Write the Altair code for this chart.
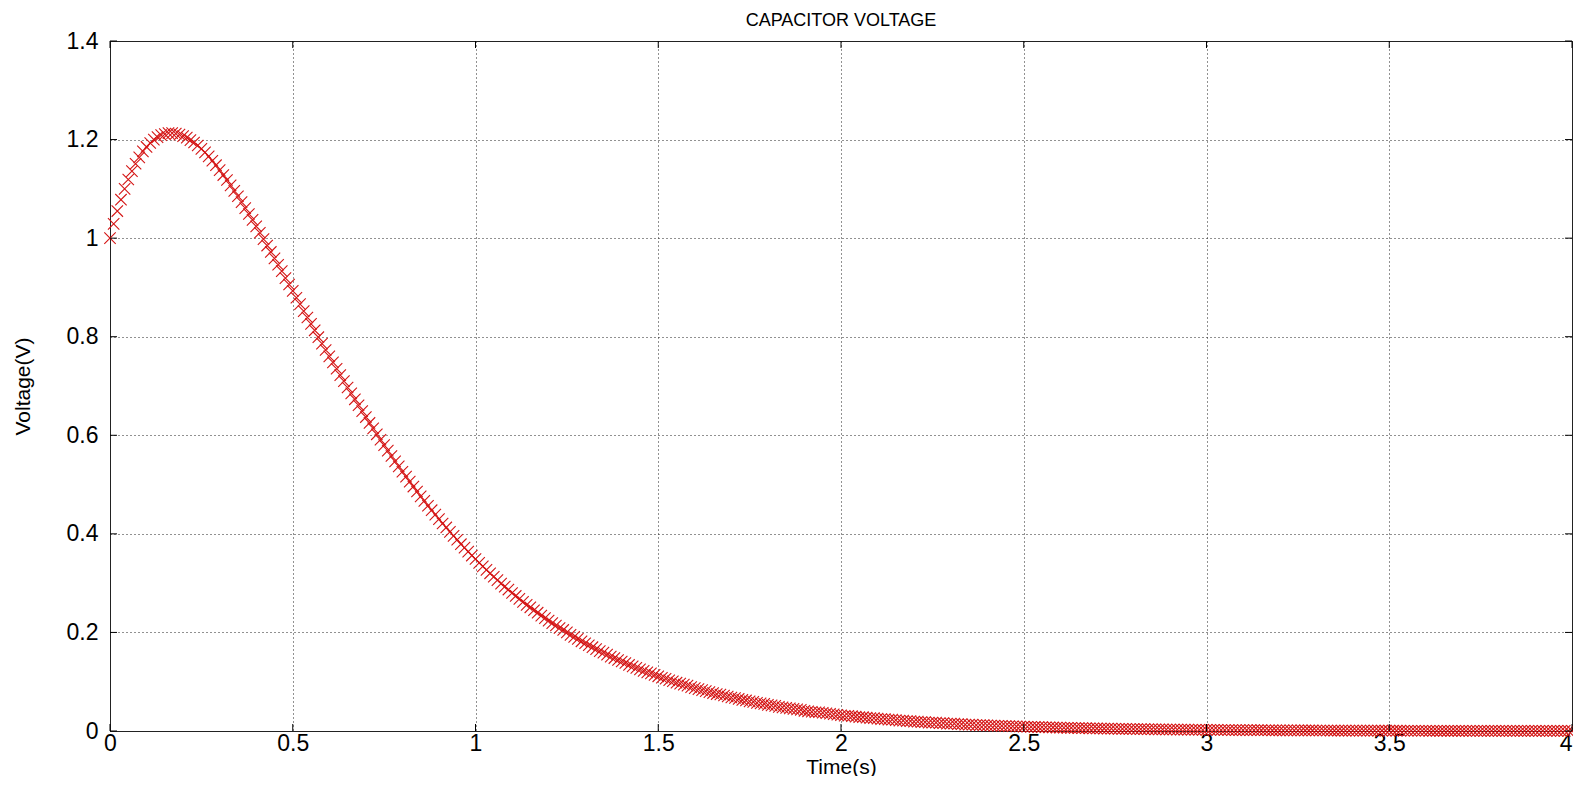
import altair as alt
import pandas as pd

# ---- data (sampling step 0.01 s) ----
T_STEP = 0.01
v_rise = [
    1.000, 1.029, 1.055, 1.078, 1.100, 1.119, 1.136, 1.151, 1.164, 1.176,
    1.185, 1.193, 1.200, 1.205, 1.209, 1.211, 1.213, 1.213, 1.212, 1.210,
    1.207, 1.204, 1.199, 1.194, 1.188, 1.181, 1.174, 1.166, 1.157, 1.148,
    1.138, 1.128, 1.118, 1.107, 1.096, 1.085, 1.073, 1.061, 1.049, 1.037,
    1.024, 1.011, 0.998, 0.985, 0.972, 0.959, 0.946, 0.933, 0.919, 0.906,
]
v_fall = [
    0.893, 0.879, 0.866, 0.852, 0.839, 0.826, 0.813, 0.799, 0.786, 0.773,
    0.760, 0.748, 0.735, 0.722, 0.710, 0.697, 0.685, 0.673, 0.661, 0.649,
    0.637, 0.625, 0.614, 0.602, 0.591, 0.580, 0.569, 0.558, 0.547, 0.537,
    0.526, 0.516, 0.506, 0.496, 0.486, 0.476, 0.467, 0.457, 0.448, 0.439,
    0.430, 0.421, 0.413, 0.404, 0.396, 0.388, 0.379, 0.372, 0.364, 0.356,
    0.349, 0.341, 0.334, 0.327, 0.320, 0.313, 0.306, 0.299, 0.293, 0.287,
    0.280, 0.274, 0.268, 0.262, 0.256, 0.251, 0.245, 0.240, 0.234, 0.229,
    0.224, 0.219, 0.214, 0.209, 0.205, 0.200, 0.195, 0.191, 0.187, 0.182,
    0.178, 0.174, 0.170, 0.166, 0.162, 0.159, 0.155, 0.151, 0.148, 0.144,
    0.141, 0.138, 0.134, 0.131, 0.128, 0.125, 0.122, 0.119, 0.117, 0.114,
]
v_decay = [
    0.111, 0.108, 0.106, 0.103, 0.101, 0.098, 0.096, 0.094, 0.092, 0.089,
    0.087, 0.085, 0.083, 0.081, 0.079, 0.077, 0.075, 0.074, 0.072, 0.070,
    0.068, 0.067, 0.065, 0.063, 0.062, 0.060, 0.059, 0.057, 0.056, 0.055,
    0.053, 0.052, 0.051, 0.049, 0.048, 0.047, 0.046, 0.045, 0.044, 0.043,
    0.041, 0.040, 0.039, 0.038, 0.038, 0.037, 0.036, 0.035, 0.034, 0.033,
    0.032, 0.031, 0.031, 0.030, 0.029, 0.028, 0.028, 0.027, 0.026, 0.026,
    0.025, 0.024, 0.024, 0.023, 0.023, 0.022, 0.021, 0.021, 0.020, 0.020,
    0.019, 0.019, 0.018, 0.018, 0.017, 0.017, 0.017, 0.016, 0.016, 0.015,
    0.015, 0.015, 0.014, 0.014, 0.013, 0.013, 0.013, 0.012, 0.012, 0.012,
    0.0115, 0.0112, 0.0109, 0.0106, 0.0104, 0.0101, 0.0098, 0.0096, 0.0093, 0.0091,
]
v_tail = [
    0.0088, 0.0086, 0.0084, 0.0082, 0.0080, 0.0078, 0.0076, 0.0074, 0.0072, 0.0070,
    0.0068, 0.0066, 0.0065, 0.0063, 0.0061, 0.0060, 0.0058, 0.0057, 0.0055, 0.0054,
    0.0052, 0.0051, 0.0050, 0.0048, 0.0047, 0.0046, 0.0044, 0.0043, 0.0042, 0.0041,
    0.0040, 0.0039, 0.0038, 0.0037, 0.0036, 0.0035, 0.0034, 0.0033, 0.0032, 0.0031,
    0.0031, 0.0030, 0.0029, 0.0028, 0.0028, 0.0027, 0.0026, 0.0025, 0.0025, 0.0024,
    0.0023, 0.0023, 0.0022, 0.0022, 0.0021, 0.0021, 0.0020, 0.0019, 0.0019, 0.0018,
    0.0018, 0.0017, 0.0017, 0.0017, 0.0016, 0.0016, 0.0015, 0.0015, 0.0014, 0.0014,
    0.0014, 0.0013, 0.0013, 0.0013, 0.0012, 0.0012, 0.0012, 0.0011, 0.0011, 0.0011,
    0.0010, 0.0010, 0.0010, 0.0010, 0.0009, 0.0009, 0.0009, 0.0009, 0.0008, 0.0008,
    0.0008, 0.0008, 0.0008, 0.0007, 0.0007, 0.0007, 0.0007, 0.0007, 0.0006, 0.0006,
    0.0006, 0.0006, 0.0006, 0.0006, 0.0005, 0.0005, 0.0005, 0.0005, 0.0005, 0.0005,
    0.0005, 0.0004, 0.0004, 0.0004, 0.0004, 0.0004, 0.0004, 0.0004, 0.0004, 0.0004,
    0.0004, 0.0003, 0.0003, 0.0003, 0.0003, 0.0003, 0.0003, 0.0003, 0.0003, 0.0003,
    0.0003, 0.0003, 0.0003, 0.0002, 0.0002, 0.0002, 0.0002, 0.0002, 0.0002, 0.0002,
    0.0002, 0.0002, 0.0002, 0.0002, 0.0002, 0.0002, 0.0002, 0.0002, 0.0002, 0.0002,
    0.0002,
]
voltage = v_rise + v_fall + v_decay + v_tail
time_s = [round(i * T_STEP, 2) for i in range(len(voltage))]

x_ticks = [0, 0.5, 1, 1.5, 2, 2.5, 3, 3.5, 4]
y_ticks = [0, 0.2, 0.4, 0.6, 0.8, 1.0, 1.2, 1.4]
chart_title = ["CAPACITOR VOLTAGE"]

df = pd.DataFrame({"t": time_s, "v": voltage})
xt = pd.DataFrame({"t": x_ticks})
yt = pd.DataFrame({"v": y_ticks})
tt = pd.DataFrame({"label": chart_title})

W, H = 1462, 690
FONT = "Liberation Sans"
LFS = 23      # tick labels
TFS = 21      # axis titles
HFS = 18      # chart title
TICK_LEN = 7

xs = alt.Scale(domain=[0, 4], nice=False, zero=False)
ys = alt.Scale(domain=[0, 1.4], nice=False, zero=False)

x_axis = alt.Axis(values=x_ticks, format="~g", title="Time(s)", grid=True,
                  labelFlush=False, labelPadding=1, titleY=42,
                  titleBaseline="alphabetic",
                  labelAlign={"expr": "datum.value >= 4 ? 'right' : 'center'"})
y_axis = alt.Axis(values=y_ticks, format="~g", title="Voltage(V)", grid=True,
                  labelPadding=12, titleX=-81, titleY=H / 2, titleAngle=270,
                  titleBaseline="alphabetic", titleAlign="center")

XMARK = "M-1,-1L1,1M-1,1L1,-1"

points = alt.Chart(df).mark_point(
    shape=XMARK, filled=False, size=130, color="#d41414", strokeWidth=1.1, opacity=1
).encode(
    x=alt.X("t:Q", scale=xs, axis=x_axis),
    y=alt.Y("v:Q", scale=ys, axis=y_axis),
)

tick_bottom = alt.Chart(xt).mark_rule(color="black", strokeWidth=1).encode(
    x=alt.X("t:Q", scale=xs, axis=x_axis), y=alt.value(H), y2=alt.value(H - TICK_LEN))
tick_top = alt.Chart(xt).mark_rule(color="black", strokeWidth=1).encode(
    x=alt.X("t:Q", scale=xs, axis=x_axis), y=alt.value(0), y2=alt.value(TICK_LEN))
tick_left = alt.Chart(yt).mark_rule(color="black", strokeWidth=1).encode(
    y=alt.Y("v:Q", scale=ys, axis=y_axis), x=alt.value(0), x2=alt.value(TICK_LEN))
tick_right = alt.Chart(yt).mark_rule(color="black", strokeWidth=1).encode(
    y=alt.Y("v:Q", scale=ys, axis=y_axis), x=alt.value(W), x2=alt.value(W - TICK_LEN))

title_text = alt.Chart(tt).mark_text(
    font=FONT, fontSize=HFS, color="black", align="center", baseline="alphabetic"
).encode(text="label:N", x=alt.value(W / 2), y=alt.value(-15))

chart = alt.layer(points, tick_bottom, tick_top, tick_left, tick_right, title_text).properties(
    width=W, height=H,
    padding={"left": 102, "top": 33, "right": 1, "bottom": 45},
    autosize=alt.AutoSizeParams(type="none"),
    background="white",
).configure_view(
    stroke="#222", strokeWidth=1
).configure_axis(
    labelFont=FONT, labelFontSize=LFS, labelColor="black",
    titleFont=FONT, titleFontSize=TFS, titleFontWeight="normal", titleColor="black",
    domainColor="#222", domainWidth=1, ticks=False, tickSize=0,
    gridColor="#222", gridDash=[1, 3], gridWidth=1, gridOpacity=1,
    labelOverlap=False,
)

chart.save("out.html", embed_options={"renderer": "svg", "actions": False})
